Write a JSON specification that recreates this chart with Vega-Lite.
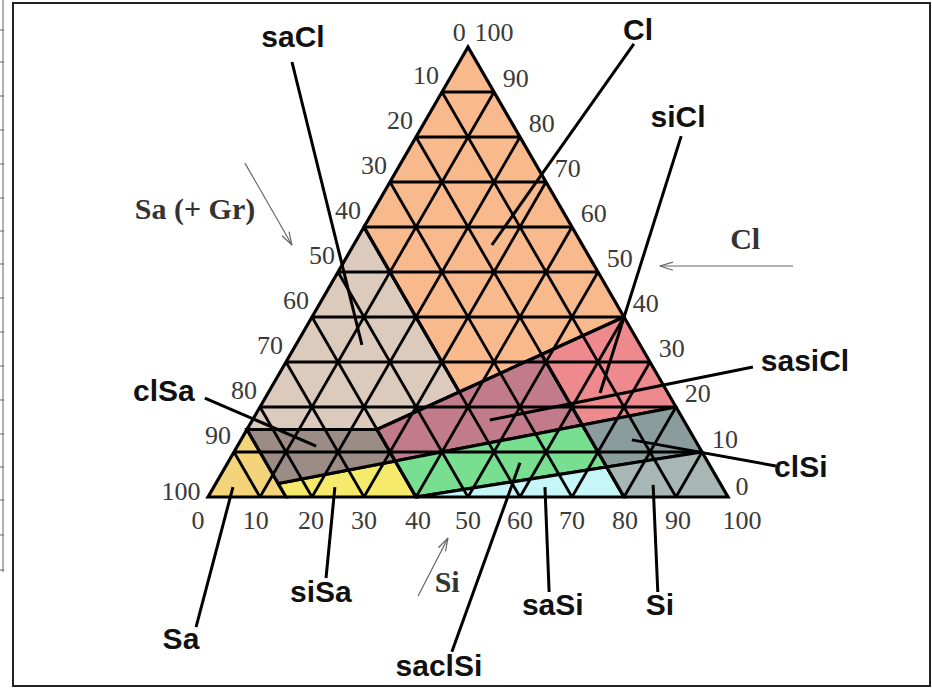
{
  "$schema": "https://vega.github.io/schema/vega-lite/v6.json",
  "width": 917,
  "height": 683,
  "autosize": {"type": "none"},
  "padding": {"left": 13, "top": 3, "right": 2, "bottom": 2},
  "background": "white",
  "config": {"view": {"stroke": "#222", "strokeWidth": 2}},
  "datasets": {
    "regions": [
      {"region": "Sa", "i": 1, "x": 0, "y": 0}, {"region": "Sa", "i": 2, "x": 7.5, "y": 15}, {"region": "Sa", "i": 3, "x": 15, "y": 0},
      {"region": "siSa", "i": 1, "x": 13.5, "y": 3}, {"region": "siSa", "i": 2, "x": 15, "y": 0}, {"region": "siSa", "i": 3, "x": 40, "y": 0}, {"region": "siSa", "i": 4, "x": 36, "y": 8},
      {"region": "clSa", "i": 1, "x": 7.5, "y": 15}, {"region": "clSa", "i": 2, "x": 32.5, "y": 15}, {"region": "clSa", "i": 3, "x": 36, "y": 8}, {"region": "clSa", "i": 4, "x": 13.5, "y": 3},
      {"region": "saCl", "i": 1, "x": 30, "y": 60}, {"region": "saCl", "i": 2, "x": 7.5, "y": 15}, {"region": "saCl", "i": 3, "x": 32.5, "y": 15}, {"region": "saCl", "i": 4, "x": 48.33, "y": 23.33},
      {"region": "Cl", "i": 1, "x": 50, "y": 100}, {"region": "Cl", "i": 2, "x": 30, "y": 60}, {"region": "Cl", "i": 3, "x": 48.33, "y": 23.33}, {"region": "Cl", "i": 4, "x": 80, "y": 40},
      {"region": "sasiCl", "i": 1, "x": 32.5, "y": 15}, {"region": "sasiCl", "i": 2, "x": 64.17, "y": 31.67}, {"region": "sasiCl", "i": 3, "x": 72, "y": 16}, {"region": "sasiCl", "i": 4, "x": 36, "y": 8},
      {"region": "siCl", "i": 1, "x": 64.17, "y": 31.67}, {"region": "siCl", "i": 2, "x": 80, "y": 40}, {"region": "siCl", "i": 3, "x": 90, "y": 20}, {"region": "siCl", "i": 4, "x": 72, "y": 16},
      {"region": "saclSi", "i": 1, "x": 36, "y": 8}, {"region": "saclSi", "i": 2, "x": 72, "y": 16}, {"region": "saclSi", "i": 3, "x": 76.67, "y": 6.67}, {"region": "saclSi", "i": 4, "x": 40, "y": 0},
      {"region": "saSi", "i": 1, "x": 40, "y": 0}, {"region": "saSi", "i": 2, "x": 76.67, "y": 6.67}, {"region": "saSi", "i": 3, "x": 80, "y": 0},
      {"region": "clSi", "i": 1, "x": 72, "y": 16}, {"region": "clSi", "i": 2, "x": 90, "y": 20}, {"region": "clSi", "i": 3, "x": 95, "y": 10}, {"region": "clSi", "i": 4, "x": 76.67, "y": 6.67},
      {"region": "Si", "i": 1, "x": 76.67, "y": 6.67}, {"region": "Si", "i": 2, "x": 95, "y": 10}, {"region": "Si", "i": 3, "x": 100, "y": 0}, {"region": "Si", "i": 4, "x": 80, "y": 0}
    ],
    "grid": [
      {"x": 5, "y": 10, "x2": 95, "y2": 10}, {"x": 10, "y": 20, "x2": 90, "y2": 20}, {"x": 15, "y": 30, "x2": 85, "y2": 30},
      {"x": 20, "y": 40, "x2": 80, "y2": 40}, {"x": 25, "y": 50, "x2": 75, "y2": 50}, {"x": 30, "y": 60, "x2": 70, "y2": 60},
      {"x": 35, "y": 70, "x2": 65, "y2": 70}, {"x": 40, "y": 80, "x2": 60, "y2": 80}, {"x": 45, "y": 90, "x2": 55, "y2": 90},
      {"x": 10, "y": 0, "x2": 55, "y2": 90}, {"x": 20, "y": 0, "x2": 60, "y2": 80}, {"x": 30, "y": 0, "x2": 65, "y2": 70},
      {"x": 40, "y": 0, "x2": 70, "y2": 60}, {"x": 50, "y": 0, "x2": 75, "y2": 50}, {"x": 60, "y": 0, "x2": 80, "y2": 40},
      {"x": 70, "y": 0, "x2": 85, "y2": 30}, {"x": 80, "y": 0, "x2": 90, "y2": 20}, {"x": 90, "y": 0, "x2": 95, "y2": 10},
      {"x": 10, "y": 0, "x2": 5, "y2": 10}, {"x": 20, "y": 0, "x2": 10, "y2": 20}, {"x": 30, "y": 0, "x2": 15, "y2": 30},
      {"x": 40, "y": 0, "x2": 20, "y2": 40}, {"x": 50, "y": 0, "x2": 25, "y2": 50}, {"x": 60, "y": 0, "x2": 30, "y2": 60},
      {"x": 70, "y": 0, "x2": 35, "y2": 70}, {"x": 80, "y": 0, "x2": 40, "y2": 80}, {"x": 90, "y": 0, "x2": 45, "y2": 90}
    ],
    "leaders": [
      {"x": 16.15, "y": 96.67, "x2": 29.6, "y2": 33.8},
      {"x": 81.9, "y": 100.7, "x2": 54.6, "y2": 56},
      {"x": 91, "y": 80.2, "x2": 75.4, "y2": 23.1},
      {"x": 104.8, "y": 28.9, "x2": 54.2, "y2": 17.1},
      {"x": -0.6, "y": 22, "x2": 20.8, "y2": 11.3},
      {"x": 109.2, "y": 6.9, "x2": 81.5, "y2": 12.7},
      {"x": -2.3, "y": -28.9, "x2": 4.8, "y2": 2.2},
      {"x": 22.7, "y": -18, "x2": 24.4, "y2": 2.2},
      {"x": 65.6, "y": -21.1, "x2": 64.8, "y2": 2.2},
      {"x": 86.5, "y": -21.1, "x2": 85.6, "y2": 2.7},
      {"x": 46.9, "y": -34.4, "x2": 60, "y2": 7.6}
    ],
    "arrows": [
      {"x": 7.1, "y": 74.2, "x2": 16.15, "y2": 56},
      {"x": 16.15, "y": 56, "x2": 15.58, "y2": 58.96},
      {"x": 16.15, "y": 56, "x2": 14.23, "y2": 58.07},
      {"x": 112.5, "y": 51.33, "x2": 86.9, "y2": 51.33},
      {"x": 86.9, "y": 51.33, "x2": 89.4, "y2": 52.2},
      {"x": 86.9, "y": 51.33, "x2": 89.4, "y2": 50.4},
      {"x": 40.4, "y": -22, "x2": 46.15, "y2": -9.11},
      {"x": 46.15, "y": -9.11, "x2": 45.67, "y2": -12.07},
      {"x": 46.15, "y": -9.11, "x2": 44.31, "y2": -11.27}
    ],
    "strip": [
      {"x": -39.42, "y": 110.44, "x2": -39.42, "y2": -16.67},
      {"x": -40, "y": 103.78, "x2": -39.2, "y2": 103.78}, {"x": -40, "y": 96.67, "x2": -39.2, "y2": 96.67},
      {"x": -40, "y": 89.11, "x2": -39.2, "y2": 89.11}, {"x": -40, "y": 81.56, "x2": -39.2, "y2": 81.56},
      {"x": -40, "y": 74, "x2": -39.2, "y2": 74}, {"x": -40, "y": 66.44, "x2": -39.2, "y2": 66.44},
      {"x": -40, "y": 59.11, "x2": -39.2, "y2": 59.11}, {"x": -40, "y": 51.78, "x2": -39.2, "y2": 51.78},
      {"x": -40, "y": 44.22, "x2": -39.2, "y2": 44.22}, {"x": -40, "y": 36.67, "x2": -39.2, "y2": 36.67},
      {"x": -40, "y": 29.11, "x2": -39.2, "y2": 29.11}, {"x": -40, "y": 21.56, "x2": -39.2, "y2": 21.56},
      {"x": -40, "y": 14, "x2": -39.2, "y2": 14}, {"x": -40, "y": 6.67, "x2": -39.2, "y2": 6.67},
      {"x": -40, "y": -0.67, "x2": -39.2, "y2": -0.67}, {"x": -40, "y": -8.44, "x2": -39.2, "y2": -8.44},
      {"x": -40, "y": -16.22, "x2": -39.2, "y2": -16.22}
    ],
    "ticks": [
      {"x": 48.3, "y": 103.1, "t": "0"}, {"x": 41.9, "y": 93.6, "t": "10"}, {"x": 36.9, "y": 83.6, "t": "20"},
      {"x": 31.9, "y": 73.6, "t": "30"}, {"x": 26.9, "y": 63.6, "t": "40"}, {"x": 21.9, "y": 53.6, "t": "50"},
      {"x": 16.9, "y": 43.6, "t": "60"}, {"x": 11.9, "y": 33.6, "t": "70"}, {"x": 6.9, "y": 23.6, "t": "80"},
      {"x": 1.9, "y": 13.6, "t": "90"}, {"x": -5.2, "y": 1.1, "t": "100"},
      {"x": 55.0, "y": 103.1, "t": "100"}, {"x": 59.2, "y": 92.9, "t": "90"}, {"x": 64.2, "y": 82.9, "t": "80"},
      {"x": 69.2, "y": 72.9, "t": "70"}, {"x": 74.2, "y": 62.9, "t": "60"}, {"x": 79.2, "y": 52.9, "t": "50"},
      {"x": 84.2, "y": 42.9, "t": "40"}, {"x": 89.2, "y": 32.9, "t": "30"}, {"x": 94.2, "y": 22.9, "t": "20"},
      {"x": 99.4, "y": 12.7, "t": "10"}, {"x": 102.7, "y": 2.2, "t": "0"},
      {"x": -1.9, "y": -5.3, "t": "0"}, {"x": 9.2, "y": -5.3, "t": "10"}, {"x": 19.8, "y": -5.3, "t": "20"},
      {"x": 30, "y": -5.3, "t": "30"}, {"x": 40.4, "y": -5.3, "t": "40"}, {"x": 50, "y": -5.3, "t": "50"},
      {"x": 60, "y": -5.3, "t": "60"}, {"x": 70, "y": -5.3, "t": "70"}, {"x": 80.2, "y": -5.3, "t": "80"},
      {"x": 90.4, "y": -5.3, "t": "90"}, {"x": 102.7, "y": -5.3, "t": "100"}
    ],
    "names": [
      {"x": 16.35, "y": 102, "t": "saCl"}, {"x": 82.7, "y": 103.6, "t": "Cl"}, {"x": 90.4, "y": 84.2, "t": "siCl"},
      {"x": 114.8, "y": 30, "t": "sasiCl"}, {"x": -8.5, "y": 23.3, "t": "clSa"}, {"x": 114, "y": 6.4, "t": "clSi"},
      {"x": -5.2, "y": -31.8, "t": "Sa"}, {"x": 21.7, "y": -21.3, "t": "siSa"}, {"x": 66.3, "y": -24.2, "t": "saSi"},
      {"x": 86.9, "y": -24.2, "t": "Si"}, {"x": 44.4, "y": -37.8, "t": "saclSi"}
    ],
    "axisnames": [
      {"x": -2.5, "y": 63.8, "t": "Sa (+ Gr)"}, {"x": 103.3, "y": 57.1, "t": "Cl"}, {"x": 46, "y": -19.1, "t": "Si"}
    ]
  },
  "encoding": {
    "x": {"field": "x", "type": "quantitative", "axis": null, "scale": {"domain": [-37.5, 138.846], "nice": false, "zero": false}},
    "y": {"field": "y", "type": "quantitative", "axis": null, "scale": {"domain": [-42, 109.78], "nice": false, "zero": false}}
  },
  "layer": [
    {
      "data": {"name": "regions"},
      "mark": {"type": "line", "interpolate": "linear-closed", "stroke": "#000", "strokeWidth": 3.2, "strokeJoin": "miter"},
      "encoding": {
        "order": {"field": "i", "type": "quantitative"},
        "detail": {"field": "region", "type": "nominal"},
        "fill": {"field": "region", "type": "nominal", "legend": null,
          "scale": {"domain": ["Sa", "siSa", "clSa", "saCl", "Cl", "sasiCl", "siCl", "saclSi", "saSi", "clSi", "Si"],
                    "range": ["#f4d47a", "#f5ea6c", "#9b8d86", "#dccbbd", "#f8b98c", "#c27b8b", "#ee898d", "#78df90", "#c6f6f8", "#8a9d9c", "#a8b7b5"]}}
      }
    },
    {
      "data": {"name": "grid"},
      "mark": {"type": "rule", "color": "#000", "strokeWidth": 2.8},
      "encoding": {"x2": {"field": "x2"}, "y2": {"field": "y2"}}
    },
    {
      "data": {"name": "leaders"},
      "mark": {"type": "rule", "color": "#000", "strokeWidth": 3},
      "encoding": {"x2": {"field": "x2"}, "y2": {"field": "y2"}}
    },
    {
      "data": {"name": "arrows"},
      "mark": {"type": "rule", "color": "#666", "strokeWidth": 1.2},
      "encoding": {"x2": {"field": "x2"}, "y2": {"field": "y2"}}
    },
    {
      "data": {"name": "strip"},
      "mark": {"type": "rule", "color": "#666", "strokeWidth": 1},
      "encoding": {"x2": {"field": "x2"}, "y2": {"field": "y2"}}
    },
    {
      "data": {"name": "ticks"},
      "mark": {"type": "text", "font": "Liberation Serif", "fontSize": 26, "color": "#3a3a3a", "align": "center", "baseline": "middle"},
      "encoding": {"text": {"field": "t"}}
    },
    {
      "data": {"name": "names"},
      "mark": {"type": "text", "font": "Liberation Sans", "fontWeight": "bold", "fontSize": 30, "color": "#111", "align": "center", "baseline": "middle"},
      "encoding": {"text": {"field": "t"}}
    },
    {
      "data": {"name": "axisnames"},
      "mark": {"type": "text", "font": "Liberation Serif", "fontWeight": "bold", "fontSize": 30, "color": "#333", "align": "center", "baseline": "middle"},
      "encoding": {"text": {"field": "t"}}
    }
  ]
}
